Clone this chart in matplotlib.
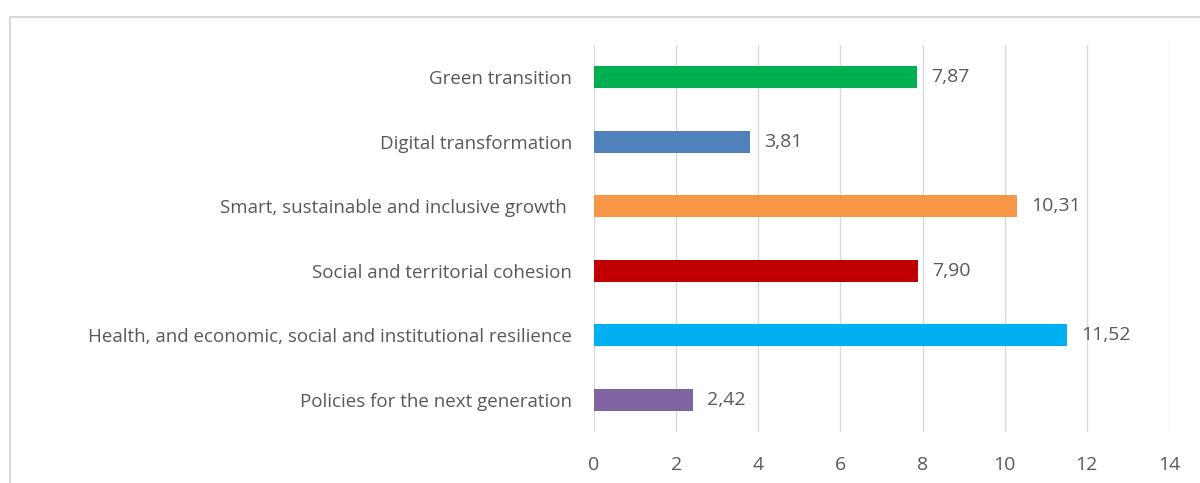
import matplotlib.pyplot as plt
from matplotlib.patches import Rectangle

categories = [
    "Green transition",
    "Digital transformation",
    "Smart, sustainable and inclusive growth ",
    "Social and territorial cohesion",
    "Health, and economic, social and institutional resilience",
    "Policies for the next generation",
]
values = [7.87, 3.81, 10.31, 7.90, 11.52, 2.42]
colors = ["#00B050", "#4F81BD", "#F79646", "#C00000", "#00B0F0", "#8064A2"]
xticks = [0, 2, 4, 6, 8, 10, 12, 14]

plt.rcParams['font.family'] = ['Open Sans', 'DejaVu Sans']
text_color = "#595959"

fig = plt.figure(figsize=(12, 4.83), dpi=100)
# light frame around the chart area
fig.patches.append(Rectangle((10 / 1200, -0.1), 1.2, 1 - 17 / 483 + 0.1,
                             transform=fig.transFigure, fill=False,
                             edgecolor="#d9d9d9", linewidth=1.5))

ax = fig.add_axes([594 / 1200, 1 - 432 / 483, 575 / 1200, 387 / 483])
ypos = list(range(len(categories)))[::-1]
ax.barh(ypos, values, height=0.34, color=colors, zorder=3)

for y, v in zip(ypos, values):
    ax.annotate(f"{v:.2f}".replace(".", ","), (v, y), xytext=(10, 0),
                textcoords="offset points", va="center", ha="left",
                fontsize=14, color=text_color)

ax.set_xlim(0, 14)
ax.set_ylim(-0.5, len(categories) - 0.5)
ax.set_xticks(xticks)
ax.set_yticks(ypos)
ax.set_yticklabels(categories)
ax.grid(axis="x", color="#d9d9d9", linewidth=1, zorder=0)
for s in ax.spines.values():
    s.set_visible(False)
ax.tick_params(length=0, labelcolor=text_color)
ax.tick_params(axis="x", pad=17, labelsize=14)
ax.tick_params(axis="y", pad=16, labelsize=13.5)

fig.savefig("out.png", dpi=100)
